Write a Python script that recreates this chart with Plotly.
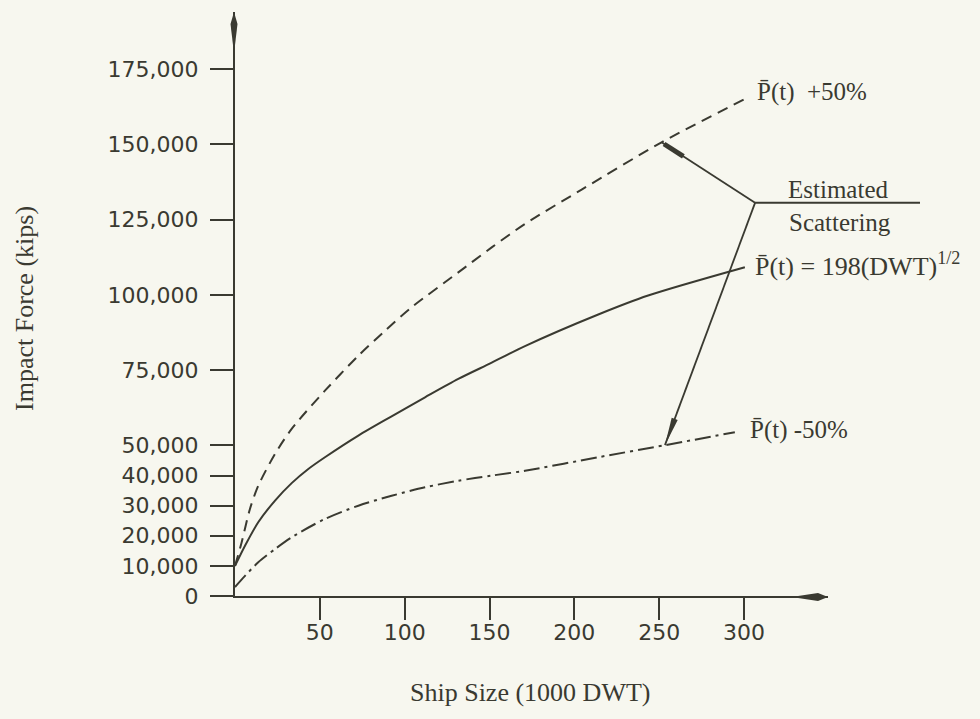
import plotly.graph_objects as go

# Ship size in 1000 DWT and impact force in kips for the three design curves
dwt_mean = [0, 5.9, 13.7, 23.6, 33.4, 43.2, 53.0, 72.7, 92.3, 112.0, 131.6, 151.3, 170.9, 214.1, 243.5, 300.5]
kips_mean = [10000, 16700, 24500, 31700, 37500, 42200, 46100, 53300, 59700, 66000, 72100, 77500, 83000,
             93500, 99800, 109200]

dwt_upper = [0, 3.9, 8.8, 13.7, 23.6, 33.4, 53.0, 72.7, 88.4, 104.1, 131.6, 151.3, 170.9, 204.3, 251.4, 300.5]
kips_upper = [10000, 17800, 28900, 36600, 47200, 55500, 68200, 79800, 88100, 95900, 107500, 115800, 123600,
              135000, 150700, 165100]

dwt_lower = [0, 5.9, 13.7, 23.6, 33.4, 53.0, 72.7, 92.3, 112.0, 131.6, 151.3, 170.9, 214.1, 253.4, 294.6]
kips_lower = [3000, 6700, 11200, 15600, 19500, 25600, 30000, 33300, 36100, 38300, 40000, 41600, 46100,
              50100, 54400]

y_ticks = [0, 10000, 20000, 30000, 40000, 50000, 75000, 100000, 125000, 150000, 175000]
y_tick_text = ["0" if v == 0 else f"{v:,}" for v in y_ticks]
x_ticks = [50, 100, 150, 200, 250, 300]
x_tick_text = [str(v) for v in x_ticks]

# point where the "Estimated Scattering" leader lines meet
scatter_hub = (306.5, 130600)

INK = "#3a3a31"
PAPER = "#f7f7ef"
SERIF = "Liberation Serif, Times New Roman, serif"
SANS = "DejaVu Sans, sans-serif"

W, H = 980, 719
ML, MR, MT, MB = 235, 152, 12, 123
PW, PH = W - ML - MR, H - MT - MB
X_MAX, Y_MAX = 349.5, 194000


def data_px(x, y):
    return ML + x / X_MAX * PW, MT + PH - y / Y_MAX * PH


def px_paper(px, py):
    return (px - ML) / PW, (MT + PH - py) / PH


def path_from_px(points):
    pts = [px_paper(*p) for p in points]
    return "M " + " L ".join(f"{a:.5f},{b:.5f}" for a, b in pts) + " Z"


def head_path(tip, frm, length, half):
    tx, ty = tip
    fx, fy = frm
    d = ((tx - fx) ** 2 + (ty - fy) ** 2) ** 0.5
    ux, uy = (tx - fx) / d, (ty - fy) / d
    bx, by = tx - length * ux, ty - length * uy
    nx, ny = -uy, ux
    return path_from_px([(bx + half * nx, by + half * ny), (tx, ty), (bx - half * nx, by - half * ny)])


fig = go.Figure()
fig.add_trace(go.Scatter(x=dwt_upper, y=kips_upper, mode="lines",
                         line=dict(color=INK, width=2, dash="11px,7px", shape="spline", smoothing=0.8)))
fig.add_trace(go.Scatter(x=dwt_mean, y=kips_mean, mode="lines",
                         line=dict(color=INK, width=2, shape="spline", smoothing=0.8)))
fig.add_trace(go.Scatter(x=dwt_lower, y=kips_lower, mode="lines",
                         line=dict(color=INK, width=2, dash="16px,5px,3px,5px", shape="spline", smoothing=0.8)))

shapes = []
# axis arrowheads
x0_px, y0_px = data_px(0, 0)
x_end_px, _ = data_px(X_MAX, 0)
_, y_top_px = data_px(0, Y_MAX)
ax_y = y0_px + 1
ax_x = x0_px - 1
shapes.append(dict(type="path", xref="paper", yref="paper", fillcolor=INK, line=dict(width=0),
                   path=path_from_px([(x_end_px - 30, ax_y - 1), (x_end_px - 10, ax_y - 4),
                                      (x_end_px, ax_y), (x_end_px - 10, ax_y + 4),
                                      (x_end_px - 30, ax_y + 1)])))
shapes.append(dict(type="path", xref="paper", yref="paper", fillcolor=INK, line=dict(width=0),
                   path=path_from_px([(ax_x - 1, y_top_px + 33), (ax_x - 3.5, y_top_px + 12),
                                      (ax_x, y_top_px), (ax_x + 3.5, y_top_px + 12),
                                      (ax_x + 1, y_top_px + 33)])))

# leader lines for the scatter band
hub = data_px(*scatter_hub)
up_tip = data_px(dwt_upper[-2], kips_upper[-2])
lo_tip = data_px(dwt_lower[-2], kips_lower[-2])
for tip in (up_tip, lo_tip):
    a = px_paper(*hub)
    b = px_paper(*tip)
    shapes.append(dict(type="line", xref="paper", yref="paper", x0=a[0], y0=a[1], x1=b[0], y1=b[1],
                       line=dict(color=INK, width=1.8)))
# heavy tick where the upper leader meets the dashed curve
d = ((hub[0] - up_tip[0]) ** 2 + (hub[1] - up_tip[1]) ** 2) ** 0.5
bar_end = (up_tip[0] + 26 * (hub[0] - up_tip[0]) / d, up_tip[1] + 26 * (hub[1] - up_tip[1]) / d)
a = px_paper(up_tip[0] + 3 * (hub[0] - up_tip[0]) / d, up_tip[1] + 3 * (hub[1] - up_tip[1]) / d)
b = px_paper(*bar_end)
shapes.append(dict(type="line", xref="paper", yref="paper", x0=a[0], y0=a[1], x1=b[0], y1=b[1],
                   line=dict(color=INK, width=5)))
# arrowhead onto the dash-dot curve
shapes.append(dict(type="path", xref="paper", yref="paper", fillcolor=INK, line=dict(width=0),
                   path=head_path(lo_tip, hub, 28, 3.2)))
# underline below "Estimated"
a = px_paper(*hub)
b = px_paper(920, hub[1])
shapes.append(dict(type="line", xref="paper", yref="paper", x0=a[0], y0=a[1], x1=b[0], y1=b[1],
                   line=dict(color=INK, width=2)))

PBAR = "P\u0304"
label_font = dict(family=SERIF, size=25, color=INK)
est_x, est_y = px_paper(838, 189)
sca_x, sca_y = px_paper(840, 223)
annotations = [
    dict(x=dwt_upper[-1] + 6, y=167400, xref="x", yref="y", text=f"{PBAR}(t)\u2002+50%",
         showarrow=False, xanchor="left", yanchor="middle", font=label_font),
    dict(x=dwt_mean[-1] + 4.5, y=110000, xref="x", yref="y", text=f"{PBAR}(t) = 198(DWT)<sup>1/2</sup>",
         showarrow=False, xanchor="left", yanchor="middle", font=dict(family=SERIF, size=26, color=INK)),
    dict(x=dwt_lower[-1] + 7.5, y=55100, xref="x", yref="y", text=f"{PBAR}(t) -50%",
         showarrow=False, xanchor="left", yanchor="middle", font=label_font),
    dict(x=est_x, y=est_y, xref="paper", yref="paper", text="Estimated",
         showarrow=False, xanchor="center", yanchor="middle", font=label_font),
    dict(x=sca_x, y=sca_y, xref="paper", yref="paper", text="Scattering",
         showarrow=False, xanchor="center", yanchor="middle", font=label_font),
    dict(x=(24 - ML) / PW, y=(MT + PH - 309) / PH, xref="paper", yref="paper", text="Impact Force (kips)",
         textangle=-90, showarrow=False, xanchor="center", yanchor="middle",
         font=dict(family=SERIF, size=26, color=INK)),
    dict(x=(530 - ML) / PW, y=(MT + PH - 692) / PH, xref="paper", yref="paper", text="Ship Size (1000 DWT)",
         showarrow=False, xanchor="center", yanchor="middle", font=dict(family=SERIF, size=26, color=INK)),
]

fig.update_layout(
    width=W, height=H,
    margin=dict(l=ML, r=MR, t=MT, b=MB, pad=0),
    paper_bgcolor=PAPER, plot_bgcolor=PAPER,
    showlegend=False,
    shapes=shapes,
    annotations=annotations,
    xaxis=dict(range=[0, X_MAX], showgrid=False, zeroline=False, showline=True, linecolor=INK, linewidth=2,
               ticks="outside", ticklen=22, tickwidth=2, tickcolor=INK, tickvals=x_ticks, ticktext=x_tick_text,
               tickfont=dict(family=SANS, size=22, color=INK), ticklabelstandoff=-6, fixedrange=True),
    yaxis=dict(range=[0, Y_MAX], showgrid=False, zeroline=False, showline=True, linecolor=INK, linewidth=2,
               ticks="outside", ticklen=23, tickwidth=2, tickcolor=INK, tickvals=y_ticks, ticktext=y_tick_text,
               tickfont=dict(family=SANS, size=22, color=INK), ticklabelstandoff=7, fixedrange=True),
)

fig.write_html("out.html")
